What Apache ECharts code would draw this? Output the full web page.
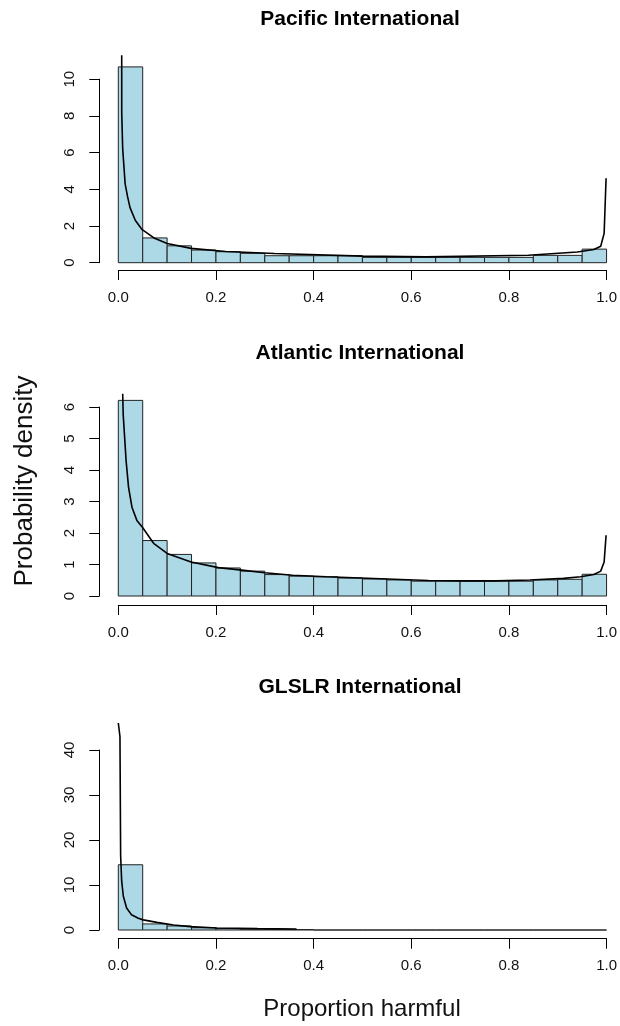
<!DOCTYPE html>
<html>
<head>
<meta charset="utf-8">
<script src="https://cdn.jsdelivr.net/npm/echarts@6/dist/echarts.min.js"></script>
<style>
html,body{margin:0;padding:0;background:#fff;}
#chart{width:620px;height:1026px;}
</style>
</head>
<body>
<div id="chart"></div>
<script>
// ---- data ----
const titles = ['Pacific International', 'Atlantic International', 'GLSLR International'];
const xLabel = 'Proportion harmful';
const yLabel = 'Probability density';
const binEdges = [0, 0.05, 0.1, 0.15, 0.2, 0.25, 0.3, 0.35, 0.4, 0.45, 0.5, 0.55, 0.6, 0.65, 0.7, 0.75, 0.8, 0.85, 0.9, 0.95, 1.0];

const pacificBars = [10.67, 1.35, 0.92, 0.69, 0.60, 0.51, 0.38, 0.38, 0.38, 0.38, 0.29, 0.29, 0.29, 0.29, 0.29, 0.29, 0.29, 0.40, 0.40, 0.74];
const atlanticBars = [6.21, 1.76, 1.32, 1.05, 0.89, 0.79, 0.68, 0.63, 0.61, 0.57, 0.54, 0.51, 0.47, 0.47, 0.47, 0.47, 0.47, 0.51, 0.53, 0.69];
const glslrBars = [14.5, 1.35, 0.9, 0.5, 0.3, 0.2, 0.15, 0.1, 0, 0, 0, 0, 0, 0, 0, 0, 0, 0, 0, 0];

const pacificCurveX = [0.007, 0.007, 0.009, 0.014, 0.019, 0.024, 0.035, 0.049, 0.073, 0.10, 0.149, 0.22, 0.32, 0.50, 0.63, 0.84, 0.94, 0.974, 0.988, 0.995, 0.999];
const pacificCurveY = [11.3, 8.2, 6.2, 4.3, 3.6, 3.0, 2.3, 1.8, 1.35, 1.05, 0.78, 0.61, 0.50, 0.36, 0.32, 0.41, 0.58, 0.72, 0.90, 1.6, 4.6];

const atlanticCurveX = [0.009, 0.010, 0.016, 0.021, 0.028, 0.038, 0.049, 0.073, 0.10, 0.149, 0.205, 0.253, 0.30, 0.357, 0.426, 0.496, 0.565, 0.635, 0.704, 0.773, 0.843, 0.912, 0.947, 0.974, 0.988, 0.995, 0.999];
const atlanticCurveY = [6.42, 5.77, 4.29, 3.45, 2.82, 2.40, 2.19, 1.66, 1.35, 1.08, 0.90, 0.82, 0.74, 0.66, 0.61, 0.57, 0.53, 0.49, 0.48, 0.48, 0.51, 0.56, 0.61, 0.68, 0.79, 1.08, 1.93];

const glslrCurveX = [0.0, 0.0034, 0.0048, 0.0069, 0.0103, 0.017, 0.027, 0.041, 0.051, 0.079, 0.113, 0.147, 0.202, 0.285, 0.365];
const glslrCurveY = [46, 43, 16.5, 10.9, 7.5, 4.9, 3.4, 2.6, 2.25, 1.7, 1.1, 0.75, 0.45, 0.3, 0.22];

const yMax = [10, 6, 40];
const yInterval = [2, 1, 10];
// ---- end data ----

const FONT = '"Liberation Sans", Arial, sans-serif';
const INK = '#000';

const grids = [
  {left: 118.3, top: 79.2, width: 488.5, height: 183.5},
  {left: 118.3, top: 407, width: 488.5, height: 189},
  {left: 118.3, top: 750, width: 493.5, height: 180}
];
const xOffsets = [7.3, 9, 8.7];
const yOffsets = [19, 19, 19];

const bars = [pacificBars, atlanticBars, glslrBars];
const curves = [
  pacificCurveX.map((x, i) => [x, pacificCurveY[i]]),
  atlanticCurveX.map((x, i) => [x, atlanticCurveY[i]]),
  glslrCurveX.map((x, i) => [x, glslrCurveY[i]])
];

const xAxes = grids.map((g, i) => ({
  type: 'value', gridIndex: i, min: 0, max: 1, interval: 0.2,
  position: 'bottom', offset: xOffsets[i],
  axisLine: {show: true, onZero: false, lineStyle: {color: INK, width: 1}},
  axisTick: {show: true, inside: false, length: 10, lineStyle: {color: INK, width: 1}},
  axisLabel: {show: true, color: '#111', fontFamily: FONT, fontSize: 15, margin: 20,
    formatter: v => v.toFixed(1)},
  splitLine: {show: false}
}));

const yAxes = grids.map((g, i) => ({
  type: 'value', gridIndex: i, min: 0, max: yMax[i], interval: yInterval[i],
  position: 'left', offset: yOffsets[i],
  axisLine: {show: true, onZero: false, lineStyle: {color: INK, width: 1}},
  axisTick: {show: true, inside: false, length: 10, lineStyle: {color: INK, width: 1}},
  axisLabel: {show: true, color: '#111', fontFamily: FONT, fontSize: 15, margin: 22, rotate: 90},
  splitLine: {show: false}
}));

const series = [];
bars.forEach((vals, k) => {
  series.push({
    type: 'custom', xAxisIndex: k, yAxisIndex: k, clip: false,
    data: vals.map((v, i) => [binEdges[i], binEdges[i + 1], v]),
    encode: {x: [0, 1], y: 2},
    renderItem: (params, api) => {
      const p0 = api.coord([api.value(0), 0]);
      const p1 = api.coord([api.value(1), api.value(2)]);
      return {
        type: 'rect',
        shape: {x: p0[0], y: p1[1], width: p1[0] - p0[0], height: p0[1] - p1[1]},
        style: {fill: '#ADD8E6', stroke: '#222', lineWidth: 1}
      };
    },
    z: 2
  });
  series.push({
    type: 'line', xAxisIndex: k, yAxisIndex: k, clip: false,
    data: curves[k], showSymbol: false, symbol: 'none', smooth: false,
    lineStyle: {color: '#000', width: 1.6}, z: 3, silent: true
  });
});

const titleY = [19, 353, 687];
const graphic = titles.map((t, i) => ({
  type: 'text', x: 360, y: titleY[i],
  style: {text: t, font: 'bold 21px ' + FONT, fill: '#000', textAlign: 'center', textVerticalAlign: 'middle'}
}));
graphic.push({
  type: 'text', x: 362, y: 1009,
  style: {text: xLabel, font: '24px ' + FONT, fill: '#111', textAlign: 'center', textVerticalAlign: 'middle'}
});
graphic.push({
  type: 'text', x: 25, y: 481, rotation: Math.PI / 2,
  style: {text: yLabel, font: '26px ' + FONT, fill: '#111', textAlign: 'center', textVerticalAlign: 'middle'}
});

const chart = echarts.init(document.getElementById('chart'), null, {renderer: 'canvas'});
chart.setOption({
  animation: false,
  backgroundColor: '#fff',
  grid: grids,
  xAxis: xAxes,
  yAxis: yAxes,
  series: series,
  graphic: graphic
});
</script>
</body>
</html>
